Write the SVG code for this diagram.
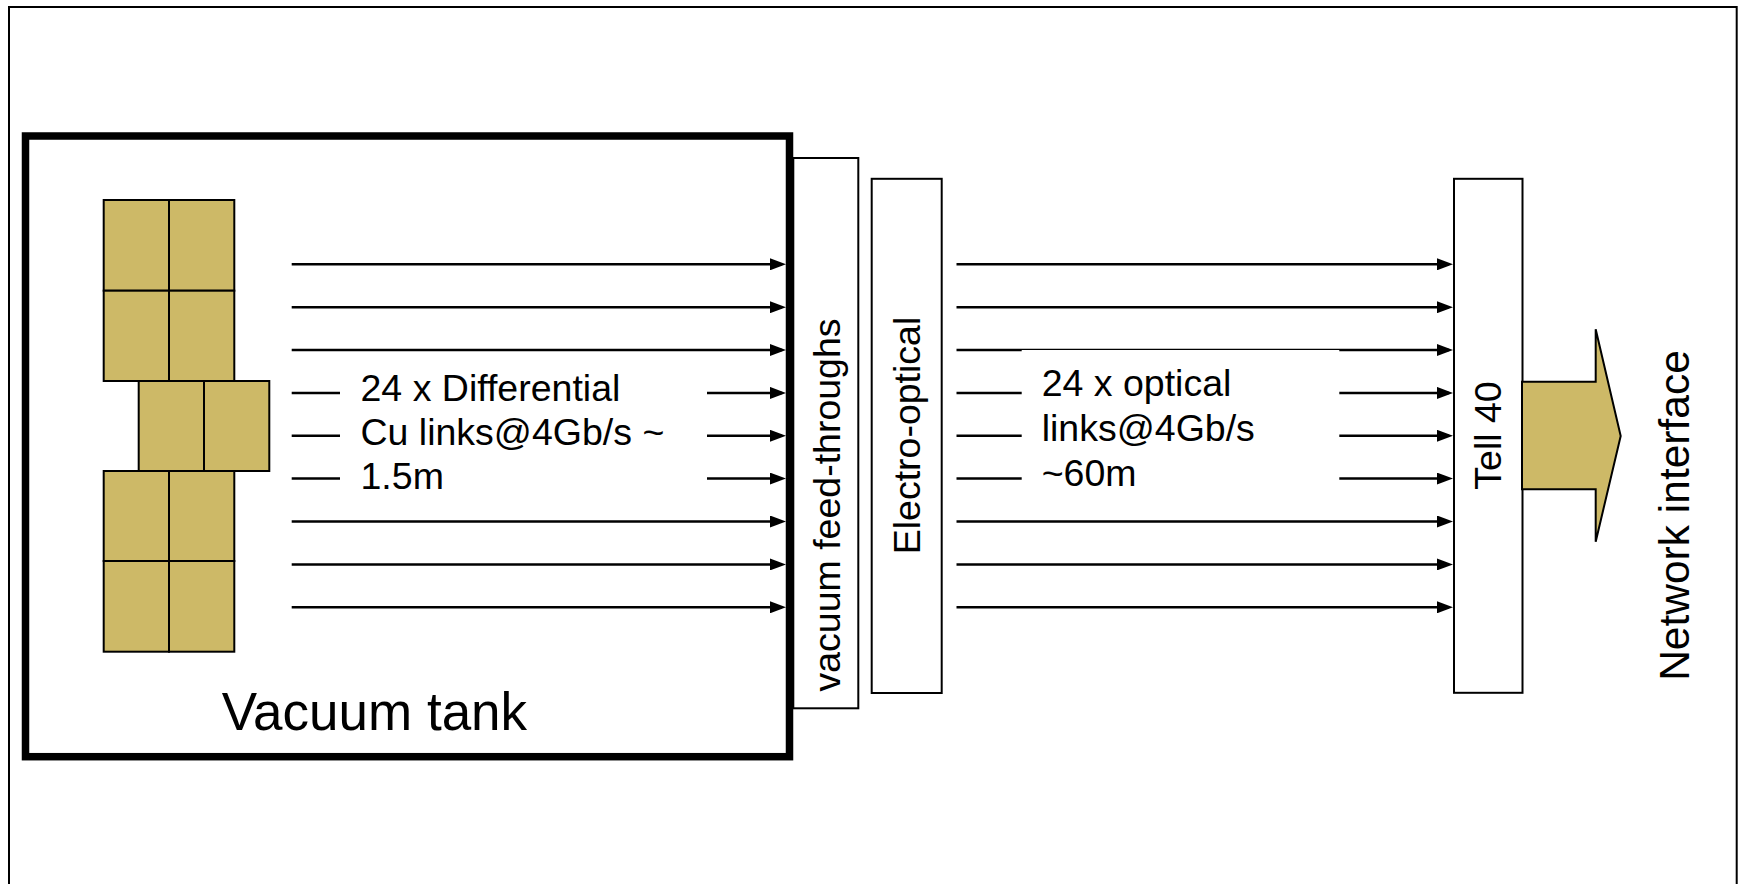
<svg xmlns="http://www.w3.org/2000/svg" width="1741" height="884" viewBox="0 0 1741 884">
  <defs>
    <marker id="head" markerUnits="userSpaceOnUse" markerWidth="16" markerHeight="12" refX="12" refY="6" orient="auto">
      <path d="M0,0 L16,6 L0,12 z" fill="#000"/>
    </marker>
    <style>
      .lbl { font-family: "Liberation Sans", Arial, sans-serif; font-size: 37.5px; fill: #000; }
      .box { fill: #fff; stroke: #000; stroke-width: 2; }
      .chip { fill: #CDB967; stroke: #000; stroke-width: 2; }
      .link { stroke: #000; stroke-width: 2.5; fill: none; }
      .arrowed { marker-end: url(#head); }
      .cover { fill: #fff; stroke: none; }
    </style>
  </defs>

  <rect width="1741" height="884" fill="#fff"/>

  <!-- outer frame -->
  <rect id="frame" x="9" y="7" width="1727.7" height="900" fill="none" stroke="#000" stroke-width="2"/>

  <!-- vacuum tank -->
  <g id="vacuum-tank">
    <rect x="25.5" y="136" width="764" height="620.7" fill="#fff" stroke="#000" stroke-width="7.5"/>
    <text class="lbl" x="221.7" y="730" style="font-size:53px">Vacuum tank</text>
  </g>

  <!-- front-end chips -->
  <g id="chips">
    <rect class="chip" x="103.7" y="200" width="65.3" height="90.7"/>
    <rect class="chip" x="169" y="200" width="65.3" height="90.7"/>
    <rect class="chip" x="103.7" y="290.7" width="65.3" height="90.3"/>
    <rect class="chip" x="169" y="290.7" width="65.3" height="90.3"/>
    <rect class="chip" x="138.7" y="381" width="65.3" height="90"/>
    <rect class="chip" x="204" y="381" width="65.3" height="90"/>
    <rect class="chip" x="103.7" y="471" width="65.3" height="90"/>
    <rect class="chip" x="169" y="471" width="65.3" height="90"/>
    <rect class="chip" x="103.7" y="561" width="65.3" height="90.7"/>
    <rect class="chip" x="169" y="561" width="65.3" height="90.7"/>
  </g>

  <!-- links -->
  <g id="connectors">
    <g id="cu-links">
      <line class="link arrowed" x1="291.7" y1="264.3" x2="782" y2="264.3"/>
      <line class="link arrowed" x1="291.7" y1="307.2" x2="782" y2="307.2"/>
      <line class="link arrowed" x1="291.7" y1="350.0" x2="782" y2="350.0"/>
      <line class="link arrowed" x1="291.7" y1="392.9" x2="782" y2="392.9"/>
      <line class="link arrowed" x1="291.7" y1="435.8" x2="782" y2="435.8"/>
      <line class="link arrowed" x1="291.7" y1="478.6" x2="782" y2="478.6"/>
      <line class="link arrowed" x1="291.7" y1="521.5" x2="782" y2="521.5"/>
      <line class="link arrowed" x1="291.7" y1="564.4" x2="782" y2="564.4"/>
      <line class="link arrowed" x1="291.7" y1="607.3" x2="782" y2="607.3"/>
    </g>
    <g id="optical-links">
      <line class="link arrowed" x1="956.5" y1="264.3" x2="1449" y2="264.3"/>
      <line class="link arrowed" x1="956.5" y1="307.2" x2="1449" y2="307.2"/>
      <line class="link arrowed" x1="956.5" y1="350.0" x2="1449" y2="350.0"/>
      <line class="link arrowed" x1="956.5" y1="392.9" x2="1449" y2="392.9"/>
      <line class="link arrowed" x1="956.5" y1="435.8" x2="1449" y2="435.8"/>
      <line class="link arrowed" x1="956.5" y1="478.6" x2="1449" y2="478.6"/>
      <line class="link arrowed" x1="956.5" y1="521.5" x2="1449" y2="521.5"/>
      <line class="link arrowed" x1="956.5" y1="564.4" x2="1449" y2="564.4"/>
      <line class="link arrowed" x1="956.5" y1="607.3" x2="1449" y2="607.3"/>
    </g>
  </g>

  <!-- link labels on white panels -->
  <g id="cu-label">
    <rect class="cover" x="340" y="356" width="367" height="144"/>
    <text class="lbl" x="360.5" y="401">24 x Differential</text>
    <text class="lbl" x="360.5" y="445">Cu links@4Gb/s ~</text>
    <text class="lbl" x="360.5" y="489">1.5m</text>
  </g>
  <g id="optical-label">
    <rect class="cover" x="1021.7" y="350" width="317.6" height="150"/>
    <text class="lbl" x="1041.7" y="396">24 x optical</text>
    <text class="lbl" x="1041.7" y="441">links@4Gb/s</text>
    <text class="lbl" x="1041.7" y="486">~60m</text>
  </g>

  <!-- vacuum feed-throughs -->
  <g id="feedthroughs">
    <rect class="box" x="793.3" y="158" width="65" height="550.3"/>
    <text class="lbl" text-anchor="middle" transform="translate(839.5,505) rotate(-90)">vacuum feed-throughs</text>
  </g>

  <!-- electro-optical converter -->
  <g id="electro-optical">
    <rect class="box" x="871.7" y="178.8" width="70" height="514.2"/>
    <text class="lbl" text-anchor="middle" transform="translate(919.5,435.5) rotate(-90)">Electro-optical</text>
  </g>

  <!-- Tell 40 board -->
  <g id="tell40">
    <rect class="box" x="1454" y="178.8" width="68.5" height="514"/>
    <text class="lbl" text-anchor="middle" transform="translate(1500.5,435.5) rotate(-90)">Tell 40</text>
  </g>

  <!-- output to network -->
  <g id="network-arrow">
    <polygon points="1522,381.7 1595.7,381.7 1595.7,329.3 1620.7,436 1595.7,541.7 1595.7,489.3 1522,489.3" fill="#CDB967" stroke="#000" stroke-width="2"/>
  </g>
  <g id="network-interface">
    <text class="lbl" text-anchor="middle" transform="translate(1689.3,515.5) rotate(-90)" style="font-size:42.5px">Network interface</text>
  </g>
</svg>
